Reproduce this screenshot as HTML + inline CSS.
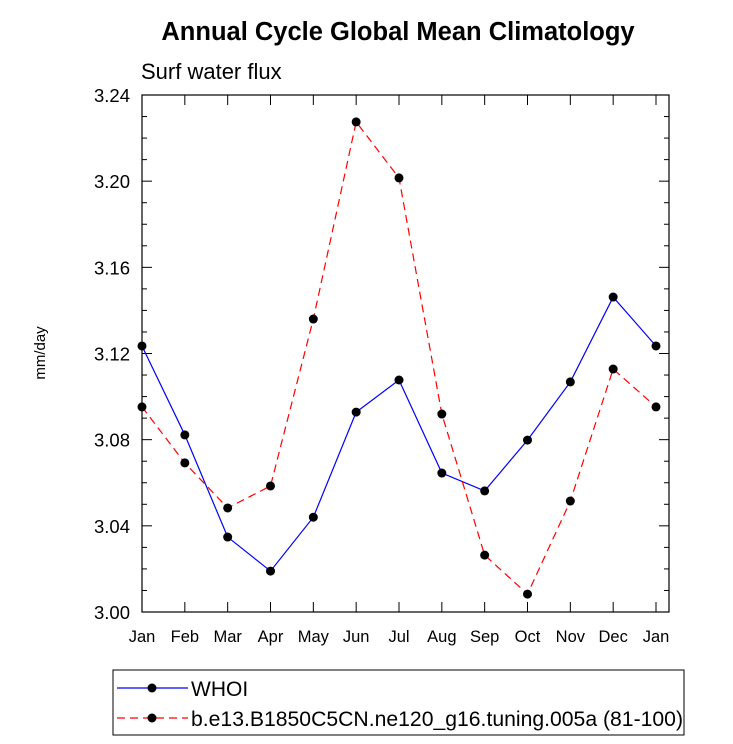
<!DOCTYPE html>
<html><head><meta charset="utf-8"><style>
body{margin:0;background:#fff;}
svg{display:block;font-family:"Liberation Sans",Arial,sans-serif;}
</style></head><body>
<svg id="chart" width="733" height="744">
<text x="398" y="40" text-anchor="middle" font-size="25.5" font-weight="bold">Annual Cycle Global Mean Climatology</text>
<text x="141" y="79" font-size="22">Surf water flux</text>
<text transform="translate(45,353) rotate(-90)" text-anchor="middle" font-size="15">mm/day</text>
<g id="axes"></g>
<g id="series"></g>
<g>
<rect x="113" y="670" width="571" height="65" fill="#fff" stroke="#000" stroke-width="1"/>
<g>
<line x1="117" y1="688" x2="188" y2="688" stroke="#0000ff" stroke-width="1.2"/>
<circle cx="152" cy="688" r="4.5" fill="#000"/>
<text x="191" y="696" font-size="21">WHOI</text>
</g>
<g>
<line x1="117" y1="718" x2="188" y2="718" stroke="#ff0000" stroke-width="1.2" stroke-dasharray="8,5"/>
<circle cx="152" cy="718" r="4.5" fill="#000"/>
<text x="191" y="726" font-size="21" textLength="492" lengthAdjust="spacingAndGlyphs">b.e13.B1850C5CN.ne120_g16.tuning.005a (81-100)</text>
</g>
</g>
</svg>
<script>
const months=["Jan","Feb","Mar","Apr","May","Jun","Jul","Aug","Sep","Oct","Nov","Dec","Jan"];
const whoi=[3.1235,3.0822,3.0348,3.019,3.044,3.0928,3.1077,3.0645,3.0562,3.0798,3.1068,3.1462,3.1235];
const model=[3.0952,3.0692,3.0483,3.0585,3.136,3.2275,3.2015,3.0919,3.0264,3.0083,3.0515,3.1128,3.0952];
const yTicks=["3.00","3.04","3.08","3.12","3.16","3.20","3.24"];
const NS="http://www.w3.org/2000/svg";
const L=142,R=669,T=95,B=612,X0=142,X1=656,YMIN=3.0,YMAX=3.24;
const xs=i=>X0+(X1-X0)*i/(months.length-1);
const ys=v=>B-(v-YMIN)/(YMAX-YMIN)*(B-T);
function mk(tag,attrs,parent){const e=document.createElementNS(NS,tag);for(const k in attrs)e.setAttribute(k,attrs[k]);parent.appendChild(e);return e;}
const ax=document.getElementById('axes');
const frame=mk('rect',{x:L,y:T,width:R-L,height:B-T,fill:'none',stroke:'#000','stroke-width':1.2},ax);


months.forEach((m,i)=>{
  const x=xs(i);
  mk('line',{x1:x,y1:B,x2:x,y2:B-10,stroke:'#000'},ax);
  mk('line',{x1:x,y1:T,x2:x,y2:T+10,stroke:'#000'},ax);
  const t=mk('text',{x:x,y:B+30,'text-anchor':'middle','font-size':16.5},ax);
  t.textContent=m;
  
  
});
for(let v=YMIN;v<=YMAX+1e-9;v+=0.01){
  const y=ys(v);const major=Math.abs(Math.round(v*100)%4)===0;const len=major?10:5;
  mk('line',{x1:L,y1:y,x2:L+len,y2:y,stroke:'#000'},ax);
  mk('line',{x1:R,y1:y,x2:R-len,y2:y,stroke:'#000'},ax);
}
yTicks.forEach(s=>{
  const t=mk('text',{x:L-12,y:ys(parseFloat(s))+7,'text-anchor':'end','font-size':18.5},ax);
  t.textContent=s;
  
  
});
const sg=document.getElementById('series');
function draw(data,color,dash,name){
  const g=mk('g',{},sg);
  
  
  const pts=data.map((v,i)=>xs(i)+','+ys(v)).join(' ');
  const a={points:pts,fill:'none',stroke:color,'stroke-width':1.2};
  if(dash)a['stroke-dasharray']=dash;
  mk('polyline',a,g);
  data.forEach((v,i)=>{
    const c=mk('circle',{cx:xs(i),cy:ys(v),r:4.5,fill:'#000'},g);
    
    
  });
}
draw(whoi,'#0000ff',null,'series-whoi');
draw(model,'#ff0000','8,5','series-model');
</script>
</body></html>
